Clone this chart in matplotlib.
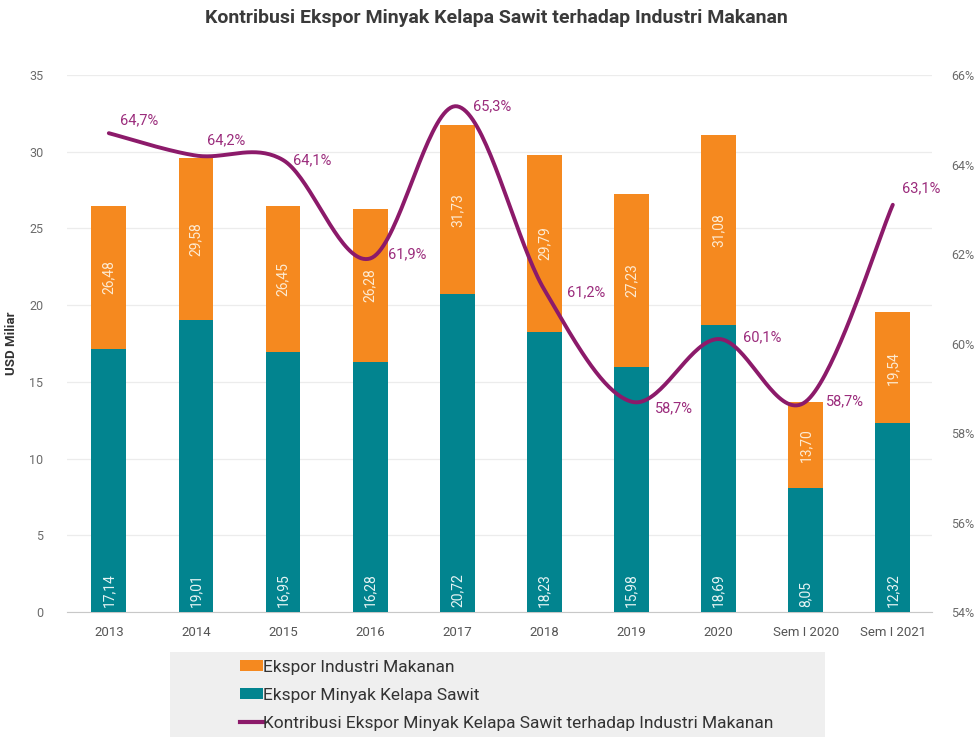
import matplotlib
matplotlib.use("Agg")
import matplotlib.pyplot as plt
import numpy as np
from matplotlib.patches import Rectangle
from matplotlib.lines import Line2D

plt.rcParams["font.family"] = ["Roboto", "DejaVu Sans"]

categories = ["2013", "2014", "2015", "2016", "2017", "2018", "2019", "2020",
              "Sem I 2020", "Sem I 2021"]
ekspor_makanan = [26.48, 29.58, 26.45, 26.28, 31.73, 29.79, 27.23, 31.08, 13.70, 19.54]
ekspor_sawit = [17.14, 19.01, 16.95, 16.28, 20.72, 18.23, 15.98, 18.69, 8.05, 12.32]
kontribusi = [64.7, 64.2, 64.1, 61.9, 65.3, 61.2, 58.7, 60.1, 58.7, 63.1]

# label offsets in pixels (dx, dy) for the percent labels
pct_offsets = [(11, 13), (11, 15), (10, 0), (18, 4), (16, 0),
               (23, -2), (23, -7), (24, 2), (20, 0), (9, 16)]

ORANGE = "#F5891F"
TEAL = "#02848F"
PURPLE = "#8C1A6A"
PURPLE_TXT = "#9B2C7C"
GRID = "#ececec"
TICK = "#6b6b6b"


def smooth_curve(xs, ys, n=40):
    # Catmull-Rom style bezier, similar to spreadsheet "smoothed line"
    xs = np.asarray(xs, float)
    ys = np.asarray(ys, float)
    px, py = [], []
    m = len(xs)
    for i in range(m - 1):
        i0 = max(i - 1, 0)
        i3 = min(i + 2, m - 1)
        p0 = np.array([xs[i0], ys[i0]])
        p1 = np.array([xs[i], ys[i]])
        p2 = np.array([xs[i + 1], ys[i + 1]])
        p3 = np.array([xs[i3], ys[i3]])
        c1 = p1 + (p2 - p0) / 6.0
        c2 = p2 - (p3 - p1) / 6.0
        t = np.linspace(0, 1, n)[:, None]
        seg = ((1 - t) ** 3) * p1 + 3 * ((1 - t) ** 2) * t * c1 \
            + 3 * (1 - t) * t ** 2 * c2 + t ** 3 * p2
        if i > 0:
            seg = seg[1:]
        px.extend(seg[:, 0])
        py.extend(seg[:, 1])
    return np.array(px), np.array(py)


fig = plt.figure(figsize=(9.74, 7.37), dpi=100)
ax = fig.add_axes([67 / 974, 1 - 612 / 737, 865 / 974, 537 / 737])

x = np.arange(len(categories))
bw = 0.40
ax.bar(x, ekspor_makanan, width=bw, color=ORANGE, zorder=2)
ax.bar(x, ekspor_sawit, width=bw, color=TEAL, zorder=3)

for i in range(len(x)):
    mid = (ekspor_makanan[i] + ekspor_sawit[i]) / 2
    ax.text(x[i], mid, f"{ekspor_makanan[i]:.2f}".replace(".", ","),
            rotation=90, ha="center", va="center", color="#fdebd3",
            fontsize=10, zorder=4)
    ax.annotate(f"{ekspor_sawit[i]:.2f}".replace(".", ","), (x[i], 0),
                xytext=(0, 5), textcoords="offset pixels", rotation=90,
                ha="center", va="bottom", color="#e6f4f4", fontsize=10, zorder=4)

ax.set_ylim(0, 35)
ax.set_yticks(range(0, 36, 5))
ax.set_xlim(-0.48, 9.45)
ax.set_xticks(x)
ax.set_xticklabels(categories)
ax.grid(axis="y", color=GRID, linewidth=0.9, zorder=0)
ax.set_axisbelow(True)
for s in ["top", "right", "left"]:
    ax.spines[s].set_visible(False)
ax.spines["bottom"].set_color("#c8c8c8")
ax.tick_params(axis="y", length=0, pad=17, labelsize=9, labelcolor=TICK)
ax.tick_params(axis="x", length=0, pad=10, labelsize=9.5, labelcolor="#555555")
ax.set_ylabel("USD Miliar", fontsize=9.5, fontweight="bold", color="#333333",
              labelpad=8)

ax2 = ax.twinx()
ax2.set_ylim(54, 66)
ax2.set_yticks(range(54, 67, 2))
ax2.set_yticklabels([f"{v}%" for v in range(54, 67, 2)])
ax2.tick_params(axis="y", length=0, pad=14, labelsize=9, labelcolor=TICK)
for s in ["top", "right", "left", "bottom"]:
    ax2.spines[s].set_visible(False)

sx, sy = smooth_curve(x, kontribusi)
ax2.plot(sx, sy, color=PURPLE, linewidth=2.8, solid_capstyle="round", zorder=5)
for i in range(len(x)):
    dx, dy = pct_offsets[i]
    ax2.annotate(f"{kontribusi[i]:.1f}%".replace(".", ","), (x[i], kontribusi[i]),
                 xytext=(dx, dy), textcoords="offset pixels", ha="left",
                 va="center", color=PURPLE_TXT, fontsize=10.5, zorder=6)

fig.text(0.51, 1 - 18 / 737, "Kontribusi Ekspor Minyak Kelapa Sawit terhadap Industri Makanan",
         ha="center", va="center", fontsize=14, fontweight="bold", color="#3a3a3a")

# legend panel
fig.patches.append(Rectangle((170 / 974, 0), 655 / 974, 85 / 737,
                             transform=fig.transFigure, facecolor="#efefef",
                             edgecolor="none", zorder=0))
handles = [Rectangle((0, 0), 1, 1, facecolor=ORANGE),
           Rectangle((0, 0), 1, 1, facecolor=TEAL),
           Line2D([0], [0], color=PURPLE, linewidth=3)]
labels = ["Ekspor Industri Makanan", "Ekspor Minyak Kelapa Sawit",
          "Kontribusi Ekspor Minyak Kelapa Sawit terhadap Industri Makanan"]
fig.legend(handles, labels, loc="upper left", bbox_to_anchor=(233 / 974, 1 - 653 / 737),
           frameon=False, fontsize=12.5, handlelength=1.3, handleheight=0.6,
           handletextpad=0.05, labelspacing=0.75, borderaxespad=0,
           labelcolor="#333333")

fig.savefig("out.png", dpi=100)
